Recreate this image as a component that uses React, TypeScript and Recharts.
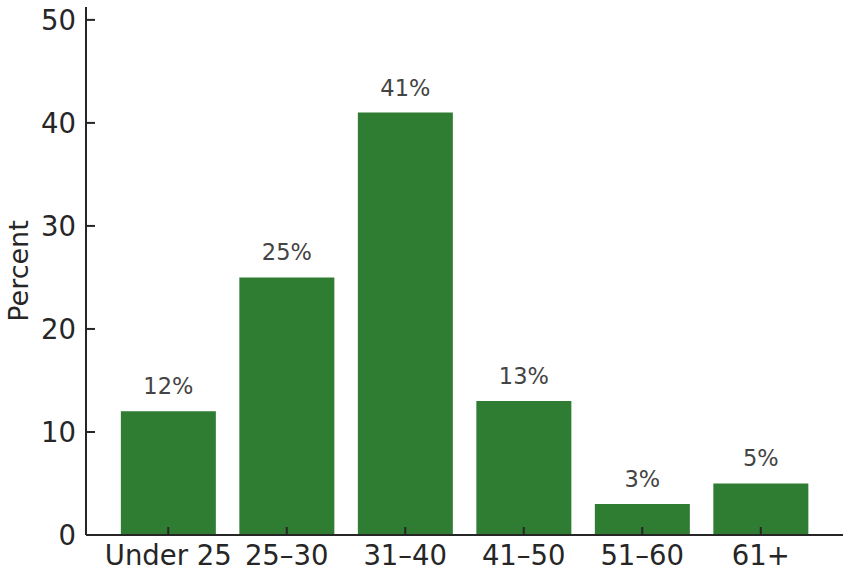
import { BarChart, Bar, XAxis, YAxis, LabelList } from 'recharts';

const AGE_GROUPS = ['Under 25', '25–30', '31–40', '41–50', '51–60', '61+'];
const PERCENTS = [12, 25, 41, 13, 3, 5];
const Y_TICKS = [0, 10, 20, 30, 40, 50];

const data = AGE_GROUPS.map((group, i) => ({ group, percent: PERCENTS[i] }));

const FONT = '"DejaVu Sans", sans-serif';
const INK = '#262626';
const BAR = '#2e7d32';

export default function App() {
  return (
    <div style={{ position: 'absolute', left: 0, top: 0, background: '#fff' }}>
      <BarChart
        width={851}
        height={575}
        data={data}
        margin={{ top: 7, right: 8, left: 0, bottom: 0 }}
        barCategoryGap="10%"
      >
        <XAxis
          dataKey="group"
          height={40}
          padding={{ left: 23, right: 23 }}
          axisLine={{ stroke: INK, strokeWidth: 2 }}
          tickLine={{ stroke: INK, strokeWidth: 2 }}
          tickSize={-8}
          tickMargin={18}
          tick={{ fill: INK, fontSize: 27.5, fontFamily: FONT }}
          interval={0}
        />
        <YAxis
          width={86}
          domain={[0, 51.25]}
          ticks={Y_TICKS}
          allowDataOverflow
          axisLine={{ stroke: INK, strokeWidth: 2 }}
          tickLine={{ stroke: INK, strokeWidth: 2 }}
          tickSize={-9}
          tickMargin={19}
          tick={{ fill: INK, fontSize: 27.5, fontFamily: FONT }}
          label={{
            value: 'Percent',
            angle: -90,
            position: 'center',
            dx: -25,
            style: { fill: INK, fontSize: 27, fontFamily: FONT },
          }}
        />
        <Bar dataKey="percent" fill={BAR} isAnimationActive={false}>
          <LabelList
            dataKey="percent"
            position="top"
            offset={17}
            formatter={(v: any) => `${v}%`}
            style={{ fill: '#444444', fontSize: 22.5, fontFamily: FONT }}
          />
        </Bar>
      </BarChart>
    </div>
  );
}
